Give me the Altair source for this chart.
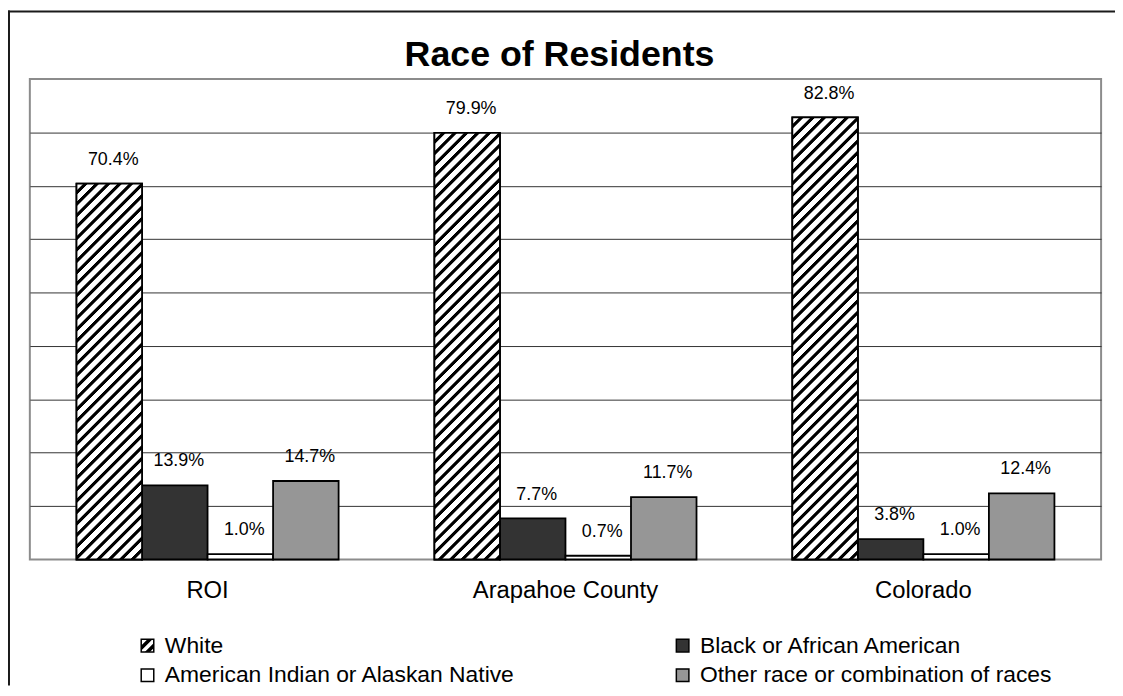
import json
import altair as alt
import pandas as pd

# ---- data ----
regions = ["ROI", "Arapahoe County", "Colorado"]
races = [
    "White",
    "Black or African American",
    "American Indian or Alaskan Native",
    "Other race or combination of races",
]
white = [70.4, 79.9, 82.8]
black = [13.9, 7.7, 3.8]
am_indian = [1.0, 0.7, 1.0]
other = [14.7, 11.7, 12.4]
grid_values = [10, 20, 30, 40, 50, 60, 70, 80]

rows = []
for race, vals in zip(races, [white, black, am_indian, other]):
    for reg, v in zip(regions, vals):
        rows.append({"region": reg, "race": race, "value": v})
df = pd.DataFrame(rows)

# ---- layout ----
W, H = 1079, 484
Y_MAX = 90
P_IN, P_OUT = 0.2677, 0.1304
FONT = "Liberation Sans"
step = W / (len(regions) - P_IN + 2 * P_OUT)
bar_w = step * (1 - P_IN) / len(races)


def hatch(h, w, period=11.5, black_w=4.5, soft=1.0):
    """Diagonal '/' stripes as a linear gradient in bbox units."""
    total = w + h
    stops = [{"offset": 0, "color": "#ffffff"}]
    k = 0
    while k * period < total:
        s = k * period
        a = s + period - black_w
        b = s + period
        for pos, col in [(a - soft / 2, "#ffffff"), (a + soft / 2, "#000000"),
                         (b - soft / 2, "#000000"), (b + soft / 2, "#ffffff")]:
            if 0 < pos < total:
                stops.append({"offset": round(pos / total, 5), "color": col})
        k += 1
    stops.append({"offset": 1, "color": stops[-1]["color"]})
    r = w / h
    dy = (r + 1) / (r * r + 1)
    dx = r * dy
    return {"gradient": "linear", "x1": 0, "y1": 0, "x2": dx, "y2": dy, "stops": stops}


grads = [hatch(v / Y_MAX * H, bar_w) for v in white]

legend_grad = {
    "gradient": "linear", "x1": 0, "y1": 0, "x2": 1, "y2": 1,
    "stops": [
        {"offset": 0, "color": "#ffffff"}, {"offset": 0.22, "color": "#ffffff"},
        {"offset": 0.27, "color": "#000000"}, {"offset": 0.42, "color": "#000000"},
        {"offset": 0.47, "color": "#ffffff"}, {"offset": 0.62, "color": "#ffffff"},
        {"offset": 0.67, "color": "#000000"}, {"offset": 0.82, "color": "#000000"},
        {"offset": 0.87, "color": "#ffffff"}, {"offset": 1, "color": "#ffffff"},
    ],
}
fill_of = {
    races[0]: {"expr": json.dumps(legend_grad)},
    races[1]: "#333333",
    races[2]: "#ffffff",
    races[3]: "#969696",
}
# legend fills column by column: order so rows read White|Black, AmInd|Other
legend_order = [races[0], races[2], races[1], races[3]]

x_enc = alt.X(
    "region:N", sort=regions,
    scale=alt.Scale(domain=regions, paddingInner=P_IN, paddingOuter=P_OUT),
    axis=alt.Axis(title=None, ticks=False, tickSize=0, domain=False, labelAngle=0,
                  labelFont=FONT, labelFontSize=24, labelColor="black", labelLimit=500,
                  labelBaseline="alphabetic", labelPadding=38),
)
xo_enc = alt.XOffset("race:N", sort=races,
                     scale=alt.Scale(domain=races, paddingInner=0, paddingOuter=0))
y_enc = alt.Y(
    "value:Q", scale=alt.Scale(domain=[0, Y_MAX], nice=False),
    axis=alt.Axis(title=None, values=grid_values, labels=False, ticks=False, domain=False,
                  grid=True, gridColor="#333333", gridWidth=1),
)

bars = alt.Chart(df).mark_bar(stroke="black", strokeWidth=1.8).encode(
    x=x_enc, xOffset=xo_enc, y=y_enc,
    fill=alt.Fill(
        "race:N", sort=legend_order,
        scale=alt.Scale(domain=legend_order, range=[fill_of[r] for r in legend_order]),
        legend=alt.Legend(orient="none", legendX=107, legendY=559, columns=2,
                          columnPadding=157, rowPadding=6, title=None, padding=0,
                          labelFont=FONT, labelFontSize=23, labelColor="black",
                          symbolType="square", symbolSize=160, symbolStrokeColor="black",
                          symbolStrokeWidth=1.5, labelOffset=6, labelLimit=1000),
    ),
)

cond = alt.when(alt.datum.region == regions[0]).then(alt.value(grads[0]))
for reg, g in zip(regions[1:-1], grads[1:-1]):
    cond = cond.when(alt.datum.region == reg).then(alt.value(g))
cond = cond.otherwise(alt.value(grads[-1]))

hatched = alt.Chart(df).transform_filter(alt.datum.race == races[0]).mark_bar(
    stroke="black", strokeWidth=1.8
).encode(x=x_enc, xOffset=xo_enc, y=y_enc, fill=cond)

labels = alt.Chart(df).transform_calculate(
    label="format(datum.value, '.1f') + '%'"
).mark_text(baseline="alphabetic", dy=-19, dx=4, font=FONT, fontSize=18, color="black").encode(
    x=x_enc, xOffset=xo_enc, y=y_enc, text="label:N"
)

one = pd.DataFrame({"k": [0]})
frame_left = alt.Chart(one).mark_rule(color="#1a1a1a", strokeWidth=2).encode(
    x=alt.value(-21), y=alt.value(-69), y2=alt.value(611)
)
frame_top = alt.Chart(one).mark_rule(color="#1a1a1a", strokeWidth=2).encode(
    x=alt.value(-22), x2=alt.value(1093), y=alt.value(-68)
)

chart = alt.layer(bars, hatched, labels, frame_left, frame_top).properties(
    width=W, height=H,
    autosize=alt.AutoSizeParams(type="none"),
    padding={"left": 22, "top": 69, "right": 14, "bottom": 135},
    background="white",
    title=alt.TitleParams("Race of Residents", font=FONT, fontSize=36, fontWeight="bold",
                          color="black", anchor="middle", frame="group", baseline="top",
                          offset=-65, dx=-6),
).configure_view(stroke="#8c8c8c", strokeWidth=2)

chart.save("out.html", embed_options={"renderer": "svg", "actions": False})
